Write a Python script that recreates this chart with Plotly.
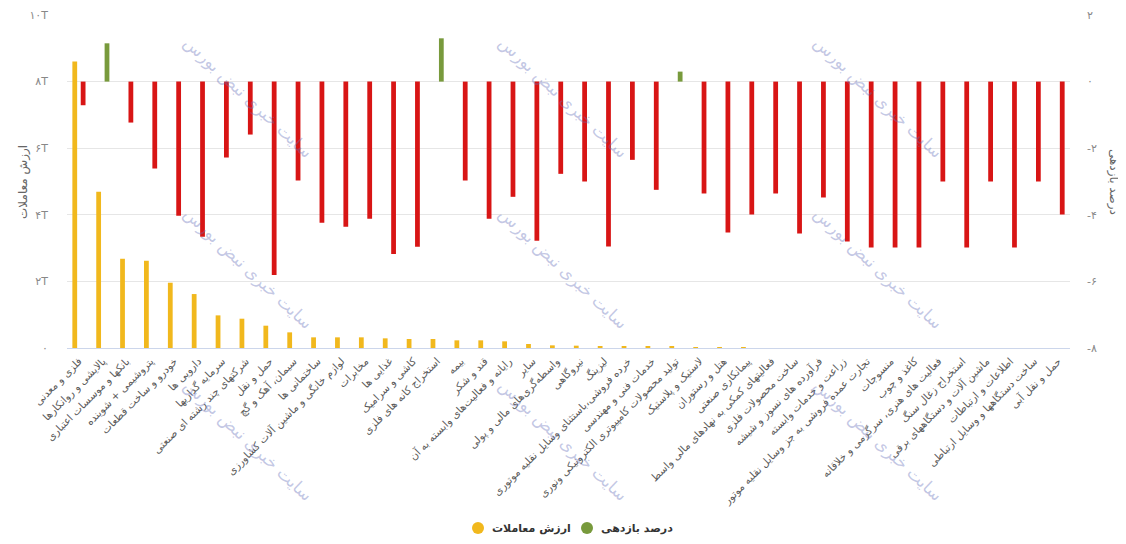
import plotly.graph_objects as go

# ---------------- data ----------------
sectors = [
    "فلزی و معدنی", "پالایشی و روانکارها", "بانکها و موسسات اعتباری", "پتروشیمی + شوینده",
    "خودرو و ساخت قطعات", "دارویی ها", "سرمایه گذاریها", "شرکتهای چند رشته ای صنعتی",
    "حمل و نقل", "سیمان، آهک و گچ", "ساختمانی ها", "لوازم خانگی و ماشین آلات کشاورزی",
    "مخابرات", "غذایی ها", "کاشی و سرامیک", "استخراج کانه های فلزی",
    "بیمه", "قند و شکر", "رایانه و فعالیت‌های وابسته به آن", "سایر",
    "واسطه‌گری‌های مالی و پولی", "نیروگاهی", "لیزینگ", "خرده فروشی،باستثنای وسایل نقلیه موتوری",
    "خدمات فنی و مهندسی", "تولید محصولات کامپیوتری الکترونیکی ونوری", "لاستیک و پلاستیک",
    "هتل و رستوران", "پیمانکاری صنعتی", "فعالیتهای کمکی به نهادهای مالی واسط",
    "ساخت محصولات فلزی", "فرآورده های نسوز و شیشه", "زراعت و خدمات وابسته",
    "تجارت عمده فروشی به جز وسایل نقلیه موتور", "منسوجات", "کاغذ و چوب",
    "فعالیت های هنری، سرگرمی و خلاقانه", "استخراج زغال سنگ", "ماشین آلات و دستگاههای برقی",
    "اطلاعات و ارتباطات", "ساخت دستگاهها و وسایل ارتباطی", "حمل و نقل آبی",
]

# trade value (trillion rial)
trade_value = [
    8.6, 4.69, 2.68, 2.62, 1.96, 1.62, 0.98, 0.88, 0.67, 0.47,
    0.32, 0.32, 0.32, 0.29, 0.27, 0.27, 0.23, 0.23, 0.20, 0.12,
    0.08, 0.07, 0.06, 0.04, 0.04, 0.04, 0.03, 0.03, 0.03, 0.0,
    0.0, 0.0, 0.0, 0.0, 0.0, 0.0, 0.0, 0.0, 0.0, 0.0, 0.0, 0.0,
]

# return (%)
returns = [
    -0.71, 1.15, -1.23, -2.61, -4.03, -4.66, -2.28, -1.59, -5.81, -2.97,
    -4.24, -4.36, -4.12, -5.18, -4.96, 1.30, -2.97, -4.12, -3.46, -4.78,
    -2.77, -3.00, -4.95, -2.35, -3.25, 0.30, -3.36, -4.53, -3.99, -3.36,
    -4.56, -3.48, -4.80, -4.98, -4.98, -4.98, -3.00, -4.98, -3.00, -4.98,
    -3.00, -3.99,
]

left_tickvals = [0, 2, 4, 6, 8, 10]
left_ticktext = ["۰", "۲T", "۴T", "۶T", "۸T", "۱۰T"]
right_tickvals = [-8, -6, -4, -2, 0, 2]
right_ticktext = ["-۸", "-۶", "-۴", "-۲", "۰", "۲"]

name_value = "ارزش معاملات"
name_return = "درصد بازدهی"
watermark = "سایت خبری نبض بورس"

# ---------------- style ----------------
YELLOW = "#f1b81d"
RED = "#d81515"
GREEN = "#789a3c"
FONT = "DejaVu Sans"

W, H = 1126, 544
OFF = 8  # page body margin
# plot area in page pixels
PL, PR, PT, PB = 67, 1070, 15, 348
L, T = PL - OFF, PT - OFF
R, B = W - (PR - OFF), H - (PB - OFF)
PW, PH = PR - PL, PB - PT


def px(x):
    return (x - PL) / PW


def py(y):
    return (PB - y) / PH


fig = go.Figure()
fig.add_trace(go.Bar(
    x=sectors, y=trade_value, name=name_value, yaxis="y",
    marker=dict(color=YELLOW, line=dict(width=0)),
    width=0.2, offset=-0.275, showlegend=False,
))
fig.add_trace(go.Bar(
    x=sectors, y=returns, name=name_return, yaxis="y2",
    marker=dict(color=[GREEN if v > 0 else RED for v in returns], line=dict(width=0)),
    width=0.2, offset=0.075, showlegend=False,
))

fig.update_layout(
    width=W, height=H,
    margin=dict(l=L, r=R, t=T, b=B, autoexpand=False),
    plot_bgcolor="white", paper_bgcolor="white",
    font=dict(family=FONT, color="#666666"),
    barmode="overlay",
    showlegend=False,
    xaxis=dict(
        type="category", tickangle=-45, automargin=False,
        tickfont=dict(size=10.5, color="#5a5a5a", family=FONT),
        showgrid=False, showline=True, linecolor="#ccd6eb", linewidth=1,
        ticks="", range=[-0.5, len(sectors) - 0.5], ticklabelstandoff=2,
    ),
    yaxis=dict(
        range=[0, 10], tickvals=left_tickvals, ticktext=left_ticktext, automargin=False,
        showgrid=True, gridcolor="#e6e6e6", zeroline=False,
        tickfont=dict(size=11, color="#888888"), ticklabelstandoff=18,
    ),
    yaxis2=dict(
        range=[-8, 2], tickvals=right_tickvals, ticktext=right_ticktext, automargin=False,
        overlaying="y", side="right", showgrid=False, zeroline=False,
        tickfont=dict(size=11, color="#888888"), ticklabelstandoff=16,
    ),
)

ann = []
# axis titles
ann.append(dict(x=px(23), y=py(182), xref="paper", yref="paper", text=name_value,
                xanchor="center", yanchor="middle",
                textangle=-90, showarrow=False, font=dict(size=12, color="#666666")))
ann.append(dict(x=px(1114), y=py(182), xref="paper", yref="paper", text=name_return,
                xanchor="center", yanchor="middle",
                textangle=90, showarrow=False, font=dict(size=12, color="#666666")))

# watermarks
for cx in (248, 563, 878):
    for cy in (97, 268, 440):
        ann.append(dict(x=px(cx), y=py(cy), xref="paper", yref="paper", text=watermark,
                        xanchor="center", yanchor="middle",
                        textangle=43, showarrow=False,
                        font=dict(size=17, color="rgba(100,110,185,0.38)")))

# legend (manual)
shapes = []
for cx, color, label in ((478, YELLOW, name_value), (587, GREEN, name_return)):
    shapes.append(dict(type="circle", xref="paper", yref="paper",
                       x0=px(cx - 6), x1=px(cx + 6), y0=py(528 + 6), y1=py(528 - 6),
                       fillcolor=color, line=dict(width=0)))
    ann.append(dict(x=px(cx + 12), y=py(528), xref="paper", yref="paper", text="<b>" + label + "</b>",
                    xanchor="left", yanchor="middle", showarrow=False,
                    font=dict(size=11, color="#333333")))

fig.update_layout(annotations=ann, shapes=shapes)
fig.write_html("out.html")
